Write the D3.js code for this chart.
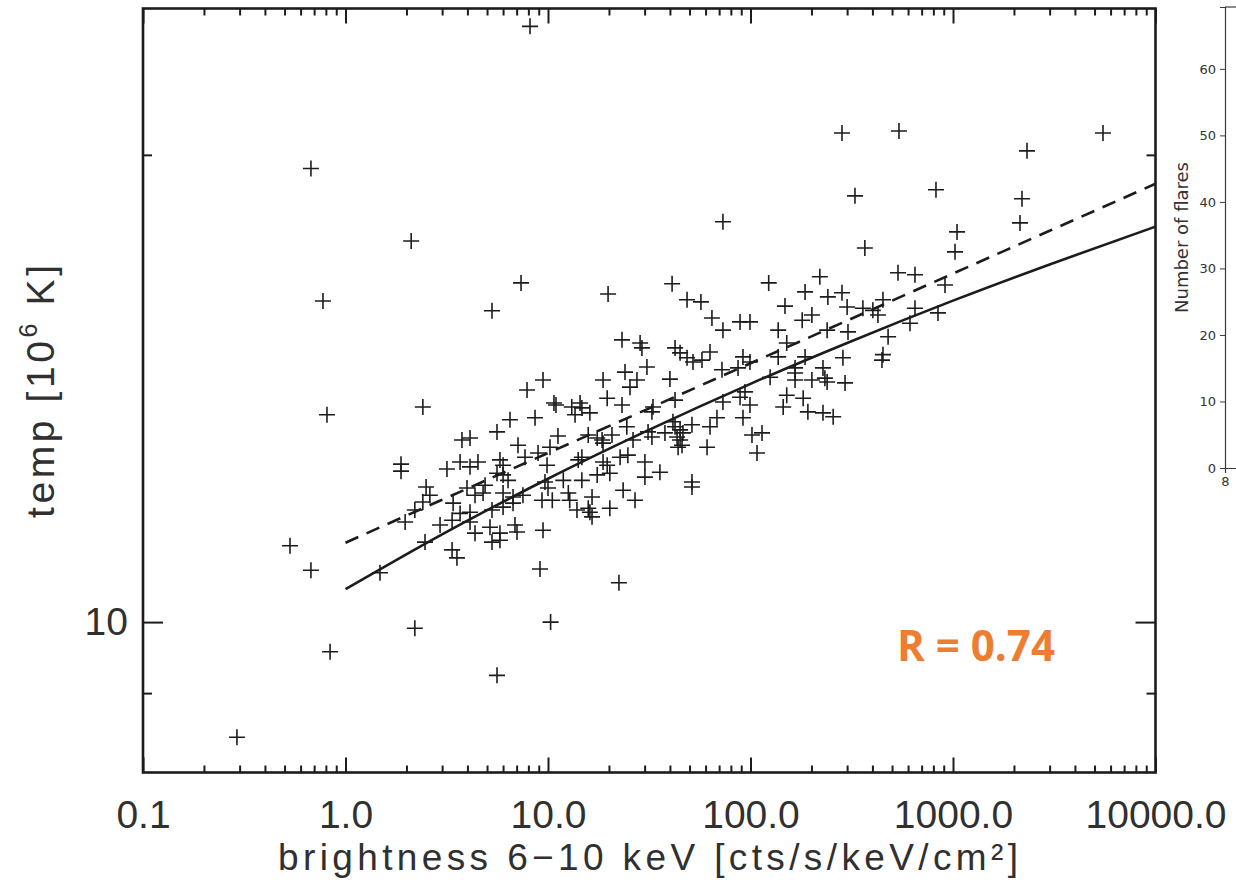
<!DOCTYPE html>
<html><head><meta charset="utf-8">
<script src="https://cdn.jsdelivr.net/npm/d3@7"></script>
<style>body{margin:0;background:#fff} svg{display:block}</style>
</head><body>
<svg id="c" width="1236" height="884"></svg>
<script>
// ---------- data ----------
const brightness = [
 8.15,0.675,0.774,0.810,0.532,0.675,0.839,0.291,1.48,2.11,2.20,1.88,1.88,1.97,2.41,2.47,3.36,3.55,2.50,2.61,
 2.41,2.20,2.93,3.40,3.76,4.12,3.68,4.12,4.51,3.17,5.60,6.49,7.88,7.11,5.79,6.00,7.70,5.60,6.00,6.35,
 3.98,4.89,4.36,4.78,6.00,6.72,7.52,3.68,4.12,3.36,4.12,5.29,6.00,6.72,4.36,5.17,5.79,5.29,5.79,6.87,
 7.03,5.29,7.36,9.13,10.3,5.60,22.4,9.45,
 48.6,56.9,64.5,73.1,88.8,99.4,23.2,28.5,29.1,42.4,44.9,48.6,52.0,57.6,63.1,30.8,24.0,27.5,25.4,18.7,
 9.45,40.0,91.8,99.4,72.3,86.8,19.6,23.2,10.7,10.95,13.1,14.4,14.7,16.1,13.6,8.63,33.0,32.6,42.4,41.4,
 42.4,44.9,46.4,51.4,68.3,63.1,73.1,88.8,99.4,91.8,101.7,107.7,24.5,11.2,10.23,15.8,17.5,18.5,18.7,20.7,
 26.3,31.2,32.6,37.8,43.4,44.9,43.9,45.9,61.0,8.93,9.89,14.1,14.7,18.7,19.6,20.2,22.7,24.8,30.1,35.7,
 30.1,51.4,51.4,11.9,14.7,17.5,9.66,10.0,9.34,10.5,12.6,12.8,16.5,15.8,13.9,16.1,16.5,20.2,23.5,26.9,
 1047,1023,367,123,220,535,649,186,241,283,148,300,359,402,451,426,913,649,613,843,
 201,180,137,151,239,303,478,451,446,137,186,286,125,166,166,166,201,228,233,239,
 293,93.9,151,145,182,192,228,256,114,
 283,541,5505,2320,328,824,2191,2142,73.1,19.8,41.0
];
const temperature = [
 24.2,19.6,16.1,13.6,11.2,10.8,9.57,8.43,10.76,17.6,9.91,12.64,12.51,11.60,13.76,11.26,11.13,11.0,12.22,12.07,
 11.95,11.81,11.55,11.93,13.10,13.14,12.68,12.59,12.68,12.55,13.26,13.50,14.11,13.00,12.72,12.62,12.77,12.47,12.44,12.34,
 12.20,12.25,12.07,12.11,12.11,12.04,12.07,11.75,11.77,11.63,11.60,11.81,11.86,11.93,11.41,11.51,11.41,11.26,11.29,11.55,
 11.43,15.87,16.54,10.82,10.0,9.24,10.60,11.46,
 16.13,16.08,15.70,15.42,15.61,15.61,15.20,15.13,15.02,15.02,14.91,14.80,14.71,14.75,14.93,14.60,14.49,14.32,14.17,14.32,
 14.32,14.34,14.82,14.71,14.54,14.58,13.94,13.80,13.84,13.80,13.76,13.84,13.74,13.64,13.60,13.54,13.76,13.66,13.90,13.46,
 13.36,13.30,13.24,13.40,13.54,13.36,13.86,13.96,13.80,13.54,13.20,12.85,13.36,13.18,12.96,13.20,13.14,13.10,13.04,13.20,
 13.10,13.26,13.16,13.24,13.16,13.10,12.96,13.00,12.96,12.85,12.62,12.72,12.77,12.68,12.62,12.47,12.77,12.81,12.68,12.49,
 12.40,12.31,12.22,12.34,12.34,12.44,12.31,12.20,11.98,11.98,12.11,11.98,12.04,11.84,11.81,11.77,11.69,11.84,12.16,11.98,
 17.84,17.32,17.42,16.54,16.69,16.79,16.74,16.32,16.20,16.30,15.98,15.96,15.93,15.88,16.13,15.77,16.49,15.93,15.58,15.82,
 15.77,15.65,15.42,15.13,15.42,15.38,15.27,14.87,14.75,14.82,14.82,14.80,14.38,14.58,14.47,14.32,14.32,14.58,14.36,14.28,
 14.26,14.07,14.00,13.76,13.94,13.66,13.64,13.56,13.24,
 20.66,20.72,20.66,20.12,18.82,18.99,18.74,18.08,18.11,16.27,16.52
];
// fit curves
const fitBrightness = [1, 3, 10, 30, 100, 300, 1000, 3000, 10000];
const fitSolid  = [10.50, 11.39, 12.37, 13.26, 14.24, 15.13, 16.11, 17.00, 17.98];
const fitDashed = [11.25, 11.99, 12.85, 13.69, 14.68, 15.64, 16.77, 17.87, 19.16];

const xMajor = [0.1, 1, 10, 100, 1000, 10000];
const xMajorLabels = ["0.1", "1.0", "10.0", "100.0", "1000.0", "10000.0"];
const yMajor = [10];
const yMajorLabels = ["10"];
const yMinor = [9, 20];
const histTicks = [0, 10, 20, 30, 40, 50, 60];
const histXTick = [8];
const histXTickLabels = ["8"];

const xTitle = "brightness 6\u221210 keV [cts/s/keV/cm\u00B2]";
const rLabel = "R = 0.74";

// ---------- layout ----------
const L = 143, R = 1155.5, T = 8.5, B = 772.5;
const svg = d3.select("#c");
const x = d3.scaleLog().domain([0.1, 10000]).range([L, R]);
const y = d3.scaleLog().domain([8, 24.85]).range([B, T]);

const xMinor = [];
for (let p = -1; p < 4; p++) for (let m = 2; m <= 9; m++) xMinor.push(m * Math.pow(10, p));

const FONT = "'Liberation Sans', Arial, Helvetica, sans-serif";
const INK = "#1c1c1c";
const TXT = "#303030";

function styleAxis(g) {
  g.select(".domain").remove();
  g.selectAll(".tick line").attr("stroke", INK).attr("stroke-width", 2);
  g.selectAll("text").attr("font-family", FONT).attr("font-size", 39).attr("fill", TXT);
}

// bottom axis
svg.append("g").attr("transform", `translate(0,${B})`)
  .call(d3.axisBottom(x).tickValues(xMajor).tickSizeInner(-15).tickSizeOuter(0)
        .tickPadding(28).tickFormat((d, i) => xMajorLabels[i]))
  .call(styleAxis);
svg.append("g").attr("transform", `translate(0,${B})`)
  .call(d3.axisBottom(x).tickValues(xMinor).tickSizeInner(-7).tickSizeOuter(0).tickFormat(""))
  .call(styleAxis);
// top axis
svg.append("g").attr("transform", `translate(0,${T})`)
  .call(d3.axisTop(x).tickValues(xMajor).tickSizeInner(-15).tickSizeOuter(0).tickFormat(""))
  .call(styleAxis);
svg.append("g").attr("transform", `translate(0,${T})`)
  .call(d3.axisTop(x).tickValues(xMinor).tickSizeInner(-7).tickSizeOuter(0).tickFormat(""))
  .call(styleAxis);
// left axis
svg.append("g").attr("transform", `translate(${L},0)`)
  .call(d3.axisLeft(y).tickValues(yMajor).tickSizeInner(-20).tickSizeOuter(0)
        .tickPadding(15).tickFormat((d, i) => yMajorLabels[i]))
  .call(styleAxis);
svg.append("g").attr("transform", `translate(${L},0)`)
  .call(d3.axisLeft(y).tickValues(yMinor).tickSizeInner(-9).tickSizeOuter(0).tickFormat(""))
  .call(styleAxis);
// right axis
svg.append("g").attr("transform", `translate(${R},0)`)
  .call(d3.axisRight(y).tickValues(yMajor).tickSizeInner(-20).tickSizeOuter(0).tickFormat(""))
  .call(styleAxis);
svg.append("g").attr("transform", `translate(${R},0)`)
  .call(d3.axisRight(y).tickValues(yMinor).tickSizeInner(-9).tickSizeOuter(0).tickFormat(""))
  .call(styleAxis);

// frame
svg.append("rect").attr("x", L).attr("y", T).attr("width", R - L).attr("height", B - T)
  .attr("fill", "none").attr("stroke", INK).attr("stroke-width", 2.6);

// fit lines
const line = d3.line().x((d, i) => x(fitBrightness[i])).y(d => y(d)).curve(d3.curveMonotoneX);
svg.append("path").datum(fitSolid).attr("d", line)
  .attr("fill", "none").attr("stroke", INK).attr("stroke-width", 2.6);
svg.append("path").datum(fitDashed).attr("d", line)
  .attr("fill", "none").attr("stroke", INK).attr("stroke-width", 2.6)
  .attr("stroke-dasharray", "14,9");

// crosses
const pts = brightness.map((b, i) => [b, temperature[i]]);
svg.append("g").selectAll("path").data(pts).join("path")
  .attr("transform", d => `translate(${x(d[0])},${y(d[1])})`)
  .attr("d", "M-8,0H8M0,-8V8")
  .attr("stroke", INK).attr("stroke-width", 1.6).attr("fill", "none");

// titles
svg.append("text").attr("x", 278).attr("y", 870)
  .attr("font-family", FONT).attr("font-size", 37).attr("fill", TXT)
  .attr("textLength", 740).attr("lengthAdjust", "spacing")
  .text(xTitle);

const yt = svg.append("text").attr("transform", "translate(54,518) rotate(-90)")
  .attr("font-family", FONT).attr("font-size", 39).attr("fill", TXT)
  .attr("textLength", 253).attr("lengthAdjust", "spacing");
yt.append("tspan").text("temp [10");
yt.append("tspan").attr("font-size", 25).attr("dy", -17).text("6");
yt.append("tspan").attr("dy", 17).text(" K]");

// R label
svg.append("text").attr("x", 897).attr("y", 661)
  .attr("font-family", "'Open Sans', sans-serif").attr("font-weight", 700)
  .attr("font-size", 43).attr("fill", "#ED7D31")
  .attr("textLength", 158).attr("lengthAdjust", "spacingAndGlyphs")
  .text(rLabel);

// ---------- partial histogram panel on the right ----------
const HX = 1225;
const hy = d3.scaleLinear().domain([0, 69.3]).range([468, 7]);
const hx = d3.scaleLinear().domain([8, 9]).range([HX, HX + 300]);
const hg = svg.append("g");
function styleHist(g) {
  g.select(".domain").attr("stroke", "#3a3a3a").attr("stroke-width", 1.2);
  g.selectAll(".tick line").attr("stroke", "#3a3a3a").attr("stroke-width", 1);
  g.selectAll("text").attr("font-family", "'DejaVu Sans', sans-serif").attr("font-size", 13).attr("fill", "#333");
}
hg.append("g").attr("transform", `translate(${HX},0)`)
  .call(d3.axisLeft(hy).tickValues(histTicks).tickSizeOuter(0).tickSize(5).tickPadding(4))
  .call(styleHist);
hg.append("g").attr("transform", `translate(0,${hy(0)})`)
  .call(d3.axisBottom(hx).tickValues(histXTick).tickSizeOuter(0).tickSize(5).tickPadding(4)
        .tickFormat((d, i) => histXTickLabels[i]))
  .call(styleHist);
hg.append("line").attr("x1", HX).attr("x2", 1236).attr("y1", hy(69.3)).attr("y2", hy(69.3))
  .attr("stroke", "#3a3a3a").attr("stroke-width", 1.2);
hg.append("text").attr("transform", `translate(1188,${(hy(0) + hy(69.3)) / 2}) rotate(-90)`)
  .attr("text-anchor", "middle")
  .attr("font-family", "'DejaVu Sans', sans-serif").attr("font-size", 18).attr("fill", "#333")
  .text("Number of flares");
</script>
</body></html>
